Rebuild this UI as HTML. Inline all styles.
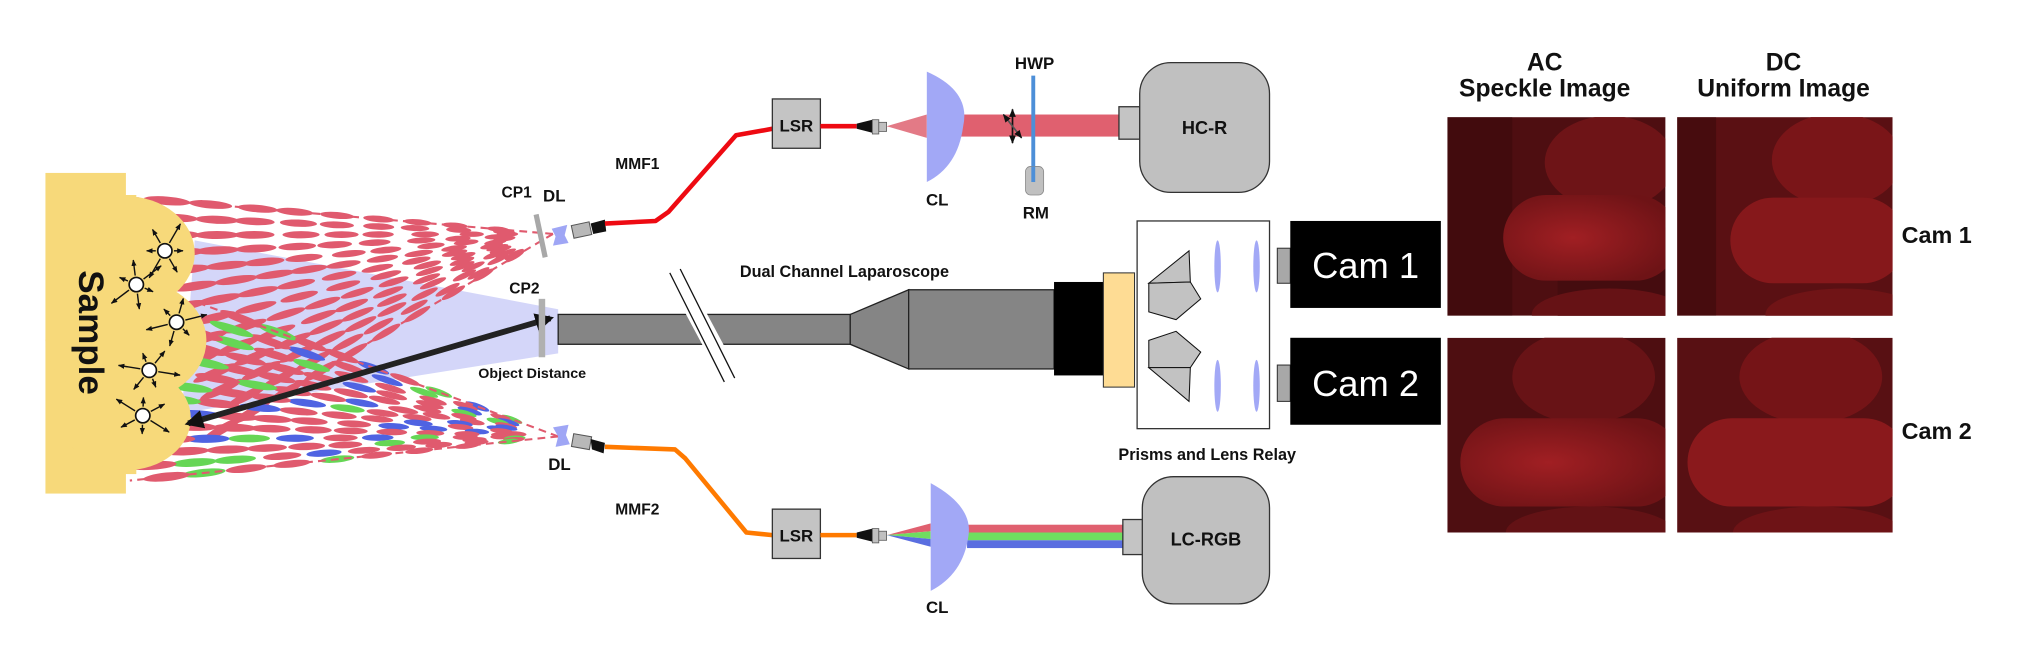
<!DOCTYPE html>
<html><head><meta charset="utf-8"><style>
html,body{margin:0;padding:0;background:#fff;width:2025px;height:660px;overflow:hidden}
svg{display:block}
text{font-family:"Liberation Sans",sans-serif;font-weight:bold;fill:#111}
</style></head><body>
<svg id="s" width="2025" height="660" viewBox="0 0 1560 508" xmlns="http://www.w3.org/2000/svg">
<defs>
<radialGradient id="f1" cx="0.4" cy="0.5" r="0.6"><stop offset="0" stop-color="#a11f23"/><stop offset="1" stop-color="#6e1316"/></radialGradient>
<clipPath id="c1"><rect x="1115" y="90" width="168" height="153"/></clipPath>
<clipPath id="c2"><rect x="1292" y="90" width="166" height="153"/></clipPath>
<clipPath id="c3"><rect x="1115" y="260" width="168" height="150"/></clipPath>
<clipPath id="c4"><rect x="1292" y="260" width="166" height="150"/></clipPath>
<marker id="ah" viewBox="0 0 10 10" refX="8" refY="5" markerWidth="3.2" markerHeight="3.2" orient="auto-start-reverse"><path d="M0,0L10,5L0,10z" fill="#111"/></marker>
<marker id="sa" viewBox="0 0 10 10" refX="9" refY="5" markerUnits="userSpaceOnUse" markerWidth="5" markerHeight="5" orient="auto"><path d="M0,1L10,5L0,9z" fill="#111"/></marker>
<marker id="sb" viewBox="0 0 10 10" refX="9" refY="5" markerWidth="5" markerHeight="5" orient="auto-start-reverse"><path d="M0,1L10,5L0,9z" fill="#111"/></marker>
</defs>

<polygon points="430,238 430,272 140,318 150,185" fill="#c9ccf8" opacity="0.8"/>
<g id="cones"></g>

<rect x="35" y="133" width="62" height="247" fill="#f7d97a"/>
<ellipse cx="97" cy="195" rx="53" ry="44" fill="#f7d97a"/>
<ellipse cx="97" cy="262" rx="62" ry="48" fill="#f7d97a"/>
<ellipse cx="97" cy="322" rx="50" ry="40" fill="#f7d97a"/>
<rect x="85" y="150" width="20" height="215" fill="#f7d97a"/>
<text x="68" y="256" font-size="27" transform="rotate(90 68 256)" text-anchor="middle" dominant-baseline="middle">Sample</text>
<g id="scat" stroke="#111" stroke-width="1.1"></g>

<line x1="145" y1="326" x2="424" y2="245" stroke="#222" stroke-width="4.5" marker-start="url(#ah)" marker-end="url(#ah)"/>

<line x1="413" y1="165" x2="420" y2="198" stroke="#a8a8a8" stroke-width="4"/>
<rect x="415" y="230" width="5" height="45" fill="#b0b0b0"/>
<path d="M425,176 L437,173 L435,181 L438,187 L426,189 L428,182z" fill="#9fa6f5"/>
<rect x="441" y="172" width="14" height="10" fill="#b8b8b8" stroke="#555" stroke-width="0.8" transform="rotate(-12 448 177)"/>
<path d="M455,172 L466,169 L467,178 L457,180z" fill="#111"/>
<polyline points="466,172 505,170 515,163 567,104 595,99" fill="none" stroke="#ee0a12" stroke-width="3.5" stroke-linejoin="round"/>
<path d="M426,329 L438,327 L436,335 L439,342 L428,344 L430,336z" fill="#9fa6f5"/>
<rect x="441" y="335" width="14" height="10" fill="#b8b8b8" stroke="#555" stroke-width="0.8" transform="rotate(10 448 340)"/>
<path d="M455,338 L466,341 L465,349 L456,346z" fill="#111"/>
<polyline points="466,344 520,346 528,353 575,410 595,412" fill="none" stroke="#ff7a00" stroke-width="3.5" stroke-linejoin="round"/>

<rect x="595" y="76" width="37" height="38" fill="#c4c4c4" stroke="#333" stroke-width="1"/>
<text x="613.5" y="101" font-size="13" text-anchor="middle">LSR</text>
<line x1="632" y1="97" x2="660" y2="97" stroke="#ee0a12" stroke-width="3.5"/>
<path d="M660,95 L672,92 L672,102 L660,99z" fill="#111"/>
<rect x="672" y="92" width="5" height="11" fill="#c0c0c0" stroke="#555" stroke-width="0.6"/>
<rect x="677" y="94" width="6" height="7" fill="#c0c0c0" stroke="#555" stroke-width="0.6"/>
<polygon points="683,97 714,88 714,106" fill="#e37a86"/>
<rect x="740" y="88" width="128" height="17" fill="#e0606f"/>
<path d="M714,55 Q748,70 742,97 Q738,128 714,140z" fill="#a2a8f6"/>
<line x1="796" y1="58" x2="796" y2="140" stroke="#4d8fd8" stroke-width="3"/>
<rect x="790" y="128" width="14" height="22" rx="4" fill="#c0c0c0" stroke="#888" stroke-width="0.6"/>
<line x1="796" y1="128" x2="796" y2="140" stroke="#4d8fd8" stroke-width="3"/>
<line x1="780" y1="110" x2="780" y2="84" stroke="#111" stroke-width="1.3" marker-end="url(#sb)" marker-start="url(#sb)"/>
<line x1="773" y1="88" x2="787" y2="106" stroke="#555" stroke-width="1.3" marker-end="url(#sb)" marker-start="url(#sb)"/>
<rect x="862" y="82" width="16" height="25" fill="#c4c4c4" stroke="#333" stroke-width="1"/>
<rect x="878" y="48" width="100" height="100" rx="24" fill="#c0c0c0" stroke="#333" stroke-width="1"/>
<text x="928" y="103" font-size="14" text-anchor="middle">HC-R</text>
<text x="797" y="53" font-size="13" text-anchor="middle">HWP</text>
<text x="722" y="158" font-size="13" text-anchor="middle">CL</text>
<text x="798" y="168" font-size="13" text-anchor="middle">RM</text>
<text x="491" y="130" font-size="12" text-anchor="middle">MMF1</text>

<rect x="595" y="392" width="37" height="38" fill="#c4c4c4" stroke="#333" stroke-width="1"/>
<text x="613.5" y="417" font-size="13" text-anchor="middle">LSR</text>
<line x1="632" y1="412" x2="660" y2="412" stroke="#ff7a00" stroke-width="3.5"/>
<path d="M660,410 L672,407 L672,417 L660,414z" fill="#111"/>
<rect x="672" y="407" width="5" height="11" fill="#c0c0c0" stroke="#555" stroke-width="0.6"/>
<rect x="677" y="409" width="6" height="7" fill="#c0c0c0" stroke="#555" stroke-width="0.6"/>
<polygon points="683,412 717,403 717,409" fill="#e0606f"/>
<polygon points="683,412 717,409 717,415" fill="#70dd60"/>
<polygon points="683,412 717,415 717,421" fill="#5a6ee0"/>
<rect x="745" y="404" width="120" height="6" fill="#e0606f"/>
<rect x="745" y="410" width="120" height="6" fill="#70dd60"/>
<rect x="745" y="416" width="120" height="6" fill="#5a6ee0"/>
<path d="M717,372 Q750,390 746,413 Q742,442 717,455z" fill="#a2a8f6"/>
<rect x="865" y="400" width="16" height="27" fill="#c4c4c4" stroke="#333" stroke-width="1"/>
<rect x="880" y="367" width="98" height="98" rx="24" fill="#c0c0c0" stroke="#333" stroke-width="1"/>
<text x="929" y="420" font-size="14" text-anchor="middle">LC-RGB</text>
<text x="722" y="472" font-size="13" text-anchor="middle">CL</text>
<text x="491" y="396" font-size="12" text-anchor="middle">MMF2</text>

<text x="398" y="152" font-size="12" text-anchor="middle">CP1</text>
<text x="427" y="155" font-size="13" text-anchor="middle">DL</text>
<text x="404" y="226" font-size="12" text-anchor="middle">CP2</text>
<text x="410" y="291" font-size="11" text-anchor="middle">Object Distance</text>
<text x="431" y="362" font-size="13" text-anchor="middle">DL</text>

<rect x="430" y="242" width="225" height="23" fill="#858585" stroke="#222" stroke-width="1"/>
<polygon points="655,242 700,223 700,284 655,265" fill="#858585" stroke="#222" stroke-width="1"/>
<rect x="700" y="223" width="112" height="61" fill="#858585" stroke="#222" stroke-width="1"/>
<rect x="812" y="217" width="38" height="72" fill="#000"/>
<rect x="850" y="210" width="24" height="88" fill="#fedc94" stroke="#333" stroke-width="0.8"/>
<polygon points="512,210 524,204 570,290 558,296" fill="#fff" stroke="#fff"/>
<line x1="516" y1="210" x2="558" y2="294" stroke="#111" stroke-width="1"/>
<line x1="524" y1="207" x2="566" y2="291" stroke="#111" stroke-width="1"/>
<text x="570" y="213" font-size="12.5">Dual Channel Laparoscope</text>

<rect x="876" y="170" width="102" height="160" fill="#fff" stroke="#333" stroke-width="1"/>
<g fill="#c2c2c2" stroke="#111" stroke-width="0.8">
<polygon points="885,218 916,193 917,217"/>
<polygon points="885,218 917,217 925,230 906,246 885,240"/>
<polygon points="885,262 906,255 925,271 917,283 885,283"/>
<polygon points="885,283 917,283 916,309"/>
</g>
<g fill="#a2a8f6">
<ellipse cx="938" cy="205" rx="2.5" ry="20"/><ellipse cx="968" cy="205" rx="2.5" ry="20"/>
<ellipse cx="938" cy="297" rx="2.5" ry="20"/><ellipse cx="968" cy="297" rx="2.5" ry="20"/>
</g>
<text x="930" y="354" font-size="12.5" text-anchor="middle">Prisms and Lens Relay</text>

<rect x="984" y="191" width="10" height="27" fill="#a8a8a8" stroke="#333" stroke-width="0.8"/>
<rect x="994" y="170" width="116" height="67" fill="#000"/>
<text x="1052" y="214" font-size="28" text-anchor="middle" style="fill:#fff;font-weight:normal">Cam 1</text>
<rect x="984" y="281" width="10" height="28" fill="#a8a8a8" stroke="#333" stroke-width="0.8"/>
<rect x="994" y="260" width="116" height="67" fill="#000"/>
<text x="1052" y="305" font-size="28" text-anchor="middle" style="fill:#fff;font-weight:normal">Cam 2</text>

<g clip-path="url(#c1)"><rect x="1115" y="90" width="168" height="153" fill="#4e0e11"/>
<rect x="1115" y="90" width="50" height="153" fill="#3a0a0c" opacity="0.6"/>
<ellipse cx="1240" cy="125" rx="50" ry="36" fill="#6e1417"/><rect x="1200" y="175" width="100" height="85" fill="#450c0f"/>
<rect x="1158" y="150" width="135" height="66" rx="33" fill="url(#f1)"/><ellipse cx="1240" cy="242" rx="60" ry="20" fill="#661215"/></g>
<g clip-path="url(#c2)"><rect x="1292" y="90" width="166" height="153" fill="#5a1013"/>
<rect x="1292" y="90" width="30" height="153" fill="#3a0a0c" opacity="0.6"/>
<ellipse cx="1415" cy="123" rx="50" ry="36" fill="#7a1518"/>
<rect x="1333" y="152" width="135" height="66" rx="33" fill="#86181b"/><ellipse cx="1420" cy="242" rx="60" ry="20" fill="#701416"/></g>
<g clip-path="url(#c3)"><rect x="1115" y="260" width="168" height="150" fill="#4e0e11"/>
<ellipse cx="1220" cy="290" rx="55" ry="36" fill="#681316"/>
<rect x="1125" y="322" width="170" height="68" rx="34" fill="url(#f1)"/><ellipse cx="1225" cy="410" rx="65" ry="20" fill="#631215"/></g>
<g clip-path="url(#c4)"><rect x="1292" y="260" width="166" height="150" fill="#581013"/>
<ellipse cx="1395" cy="290" rx="55" ry="36" fill="#751417"/>
<rect x="1300" y="322" width="170" height="68" rx="34" fill="#8a191c"/><ellipse cx="1400" cy="410" rx="65" ry="20" fill="#6e1316"/></g>

<text x="1190" y="54" font-size="19" text-anchor="middle">AC</text>
<text x="1190" y="74" font-size="19" text-anchor="middle">Speckle Image</text>
<text x="1374" y="54" font-size="19" text-anchor="middle">DC</text>
<text x="1374" y="74" font-size="19" text-anchor="middle">Uniform Image</text>
<text x="1492" y="187" font-size="18" text-anchor="middle">Cam 1</text>
<text x="1492" y="338" font-size="18" text-anchor="middle">Cam 2</text>
</svg>
<script>
(function(){
var NS="http://www.w3.org/2000/svg",g=document.getElementById("cones");
function el(n,a){var e=document.createElementNS(NS,n);for(var k in a)e.setAttribute(k,a[k]);return e;}
var seed=7;function rnd(){seed=(seed*9301+49297)%233280;return seed/233280;}
function cone(ax,ay,t,b,rgb){
  var n=13;
  for(var i=0;i<=n;i++){var f=i/n;var ex=t[0]+(b[0]-t[0])*f,ey=t[1]+(b[1]-t[1])*f;
    var dx=ex-ax,dy=ey-ay,ang=Math.atan2(dy,dx)*180/Math.PI;
    for(var s=0.1+rnd()*0.06;s<0.96;s+=0.085+rnd()*0.03){
      var x=ax+dx*s,y=ay+dy*s,len=7+12*s;
      var c="#e05a6e";if(rgb){var r=rnd();c=r<0.6?"#e05a6e":(r<0.8?"#66d655":"#4f63e2");}
      g.appendChild(el("ellipse",{cx:x.toFixed(1),cy:y.toFixed(1),rx:len.toFixed(1),ry:(1.8+1.6*s).toFixed(1),fill:c,transform:"rotate("+ang.toFixed(1)+" "+x.toFixed(1)+" "+y.toFixed(1)+")"}));
    }}
  g.appendChild(el("line",{x1:ax,y1:ay,x2:t[0],y2:t[1],stroke:"#e05a6e","stroke-width":1.6,"stroke-dasharray":"6 4"}));
  g.appendChild(el("line",{x1:ax,y1:ay,x2:b[0],y2:b[1],stroke:"#e05a6e","stroke-width":1.6,"stroke-dasharray":"6 4"}));
}
cone(426,180,[100,152],[155,340],false);
cone(430,336,[150,232],[100,370],true);
var pts=[[127,193],[105,219],[136,248],[115,285],[110,320]],sc=document.getElementById("scat");
pts.forEach(function(p,j){
  for(var k=0;k<6;k++){var a=(k*60+j*23)*Math.PI/180,r=14+(k%3)*5;
    sc.appendChild(el("line",{x1:p[0]+Math.cos(a)*7,y1:p[1]+Math.sin(a)*7,x2:p[0]+Math.cos(a)*r,y2:p[1]+Math.sin(a)*r,"marker-end":"url(#sa)"}));}
  sc.appendChild(el("circle",{cx:p[0],cy:p[1],r:5.5,fill:"#fff",stroke:"#111","stroke-width":1.3}));
});
})();
</script>
</body></html>
